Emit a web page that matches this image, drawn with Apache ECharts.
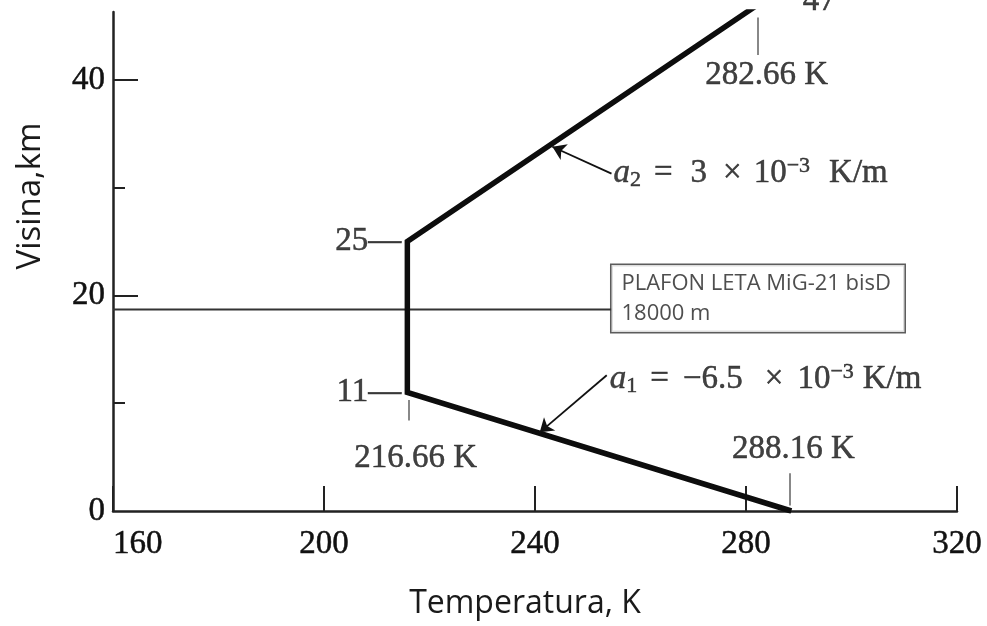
<!DOCTYPE html>
<html>
<head>
<meta charset="utf-8">
<script src="https://cdn.jsdelivr.net/npm/echarts@6/dist/echarts.min.js"></script>
<style>
  html, body { margin: 0; padding: 0; background: #fff; }
  #chart { width: 987px; height: 626px; }
</style>
</head>
<body>
<div id="chart"></div>
<script>
// ---- data ----
const xTickValues = [160, 200, 240, 280, 320];
const yLabelValues = [0, 20, 40];
const yMajorTicks = [20, 40];
const yMinorTicks = [10, 30];
// temperature profile: [temperature K, altitude km]
const profileTemp = [288.6, 215.8, 215.8, 282.3];
const profileAlt = [0, 11, 25, 47];
// ceiling line (MiG-21 bisD service ceiling)
const ceilingTemp = [160, 254.5];
const ceilingAlt = [18.7, 18.7];
// small guide ticks under the values
const guideTicks = [
  [[216.0, 10.3], [216.0, 8.4]],
  [[288.2, 3.5], [288.2, 0.5]],
  [[282.2, 45.8], [282.2, 42.3]]
];
// arrows from formulas to the line: [start, end]
const arrows = [
  [[254.5, 31.3], [243.3, 33.8]],
  [[253.6, 12.6], [240.9, 7.3]]
];
// text annotations anchored in data coordinates
const annotTexts = [
  { at: [215.8, 25], text: '25—', pos: 'left' },
  { at: [215.8, 11], text: '11—', pos: 'left' },
  { at: [217.4, 4.9], text: '216.66 K', pos: 'inside' },
  { at: [289.0, 5.7], text: '288.16 K', pos: 'inside' },
  { at: [283.9, 40.4], text: '282.66 K', pos: 'inside' },
  { at: [293.9, 47.3], text: '47', pos: 'inside' }
];
const formulaA2 = { at: [254.5, 31.3] };
const formulaA1 = { at: [253.8, 12.2] };
const boxAnchor = { at: [254.5, 18.7], lines: ['PLAFON LETA MiG-21 bisD', '18000 m'] };

const serif = 'Liberation Serif';
const txtColor = '#111';
const fs = 33;
const thick = { textBorderColor: '#111', textBorderWidth: 0.5 };

const chart = echarts.init(document.getElementById('chart'), null, { renderer: 'canvas' });

const profileData = profileTemp.map((t, i) => [t, profileAlt[i]]);
const ceilingData = ceilingTemp.map((t, i) => [t, ceilingAlt[i]]);

const annotData = annotTexts.map(a => ({
  value: a.at,
  label: Object.assign({
    show: true,
    formatter: a.text,
    position: a.pos,
    distance: 6,
    fontFamily: serif,
    fontSize: fs,
    color: txtColor
  }, thick)
}));

function formulaRich(gaps) {
  const base = Object.assign({ fontFamily: serif, color: txtColor }, thick);
  return {
    i: Object.assign({}, base, { fontStyle: 'italic', fontSize: fs }),
    sub: Object.assign({}, base, { fontSize: 22, verticalAlign: 'bottom', padding: [14, 0, 0, 0] }),
    sup: Object.assign({}, base, { fontSize: 22, verticalAlign: 'top', padding: [0, 0, 12, 0] }),
    n: Object.assign({}, base, { fontSize: fs }),
    eq: Object.assign({}, base, { fontSize: fs, padding: [0, gaps[1], 0, gaps[0]] }),
    x: Object.assign({}, base, { fontSize: fs, padding: [0, gaps[3], 0, gaps[2]] }),
    u: Object.assign({}, base, { fontSize: fs, padding: [0, 0, 0, gaps[4]] })
  };
}

annotData.push({
  value: formulaA2.at,
  label: {
    show: true,
    position: 'right',
    distance: 2,
    formatter: '{i|a}{sub|2}{eq|=}{n|3}{x|×}{n|10}{sup|−3}{u|K/m}',
    rich: formulaRich([13, 18, 16, 12, 19])
  }
});
annotData.push({
  value: formulaA1.at,
  label: {
    show: true,
    position: 'right',
    distance: 2,
    formatter: '{i|a}{sub|1}{eq|=}{n|−6.5}{x|×}{n|10}{sup|−3}{u|K/m}',
    rich: formulaRich([13, 14, 22, 14, 9])
  }
});
annotData.push({
  value: boxAnchor.at,
  label: {
    show: true,
    position: 'right',
    distance: 0,
    offset: [0, -11],
    formatter: boxAnchor.lines.join('\n'),
    fontFamily: 'Open Sans',
    fontSize: 22,
    lineHeight: 30,
    color: '#222',
    width: 271,
    align: 'left',
    padding: [3, 12, 4, 10],
    backgroundColor: '#fff',
    borderColor: '#333',
    borderWidth: 1.5
  }
});

const option = {
  backgroundColor: '#fff',
  animation: false,
  grid: { left: 113, right: 30, top: 12, bottom: 115, containLabel: false },
  xAxis: {
    type: 'value',
    min: 160, max: 320, interval: 40,
    axisLine: { lineStyle: { color: '#222', width: 2.5 } },
    axisTick: { inside: true, length: 25, lineStyle: { color: '#222', width: 2 } },
    axisLabel: Object.assign({
      fontFamily: serif, fontSize: fs, color: txtColor, margin: 17,
      alignMinLabel: 'left', customValues: xTickValues
    }, thick),
    splitLine: { show: false }
  },
  yAxis: [
    {
      type: 'value', position: 'left',
      min: 0, max: 46.3,
      axisLine: { show: true, lineStyle: { color: '#222', width: 2.5 } },
      axisTick: { show: true, inside: true, length: 25, customValues: yMajorTicks, lineStyle: { color: '#222', width: 2 } },
      axisLabel: Object.assign({ fontFamily: serif, fontSize: fs, color: txtColor, margin: 8, customValues: yLabelValues }, thick),
      splitLine: { show: false }
    },
    {
      type: 'value', position: 'left',
      min: 0, max: 46.3,
      axisLine: { show: false },
      axisTick: { show: true, inside: true, length: 12, customValues: yMinorTicks, lineStyle: { color: '#222', width: 2 } },
      axisLabel: { show: false },
      splitLine: { show: false }
    }
  ],
  graphic: [
    {
      type: 'text', x: 31, y: 196, rotation: Math.PI / 2,
      style: { text: 'Visina,km', font: '33px "Open Sans"', fill: '#1a1a1a', textAlign: 'center', textVerticalAlign: 'middle' }
    },
    {
      type: 'text', x: 525, y: 604,
      style: { text: 'Temperatura, K', font: '32px "Open Sans"', fill: '#1a1a1a', textAlign: 'center', textVerticalAlign: 'middle' }
    }
  ],
  series: [
    {
      name: 'ceiling', type: 'line', data: ceilingData,
      symbol: 'none', lineStyle: { color: '#333', width: 2 }, z: 2
    },
    {
      name: 'profile', type: 'line', data: profileData,
      symbol: 'none', lineStyle: { color: '#0d0d0d', width: 5.5, join: 'miter' }, z: 3
    },
    {
      name: 'guides', type: 'lines', coordinateSystem: 'cartesian2d',
      data: guideTicks.map(c => ({ coords: c })),
      lineStyle: { color: '#111', width: 2 }, symbol: 'none', z: 3
    },
    {
      name: 'arrows', type: 'lines', coordinateSystem: 'cartesian2d',
      data: arrows.map(c => ({ coords: c })),
      symbol: ['none', 'arrow'], symbolSize: 13,
      lineStyle: { color: '#111', width: 1.8, opacity: 1 }, z: 4
    },
    {
      name: 'annotations', type: 'scatter', data: annotData,
      symbolSize: 0, clip: false, silent: true, z: 5
    }
  ]
};
chart.setOption(option);
</script>
</body>
</html>
